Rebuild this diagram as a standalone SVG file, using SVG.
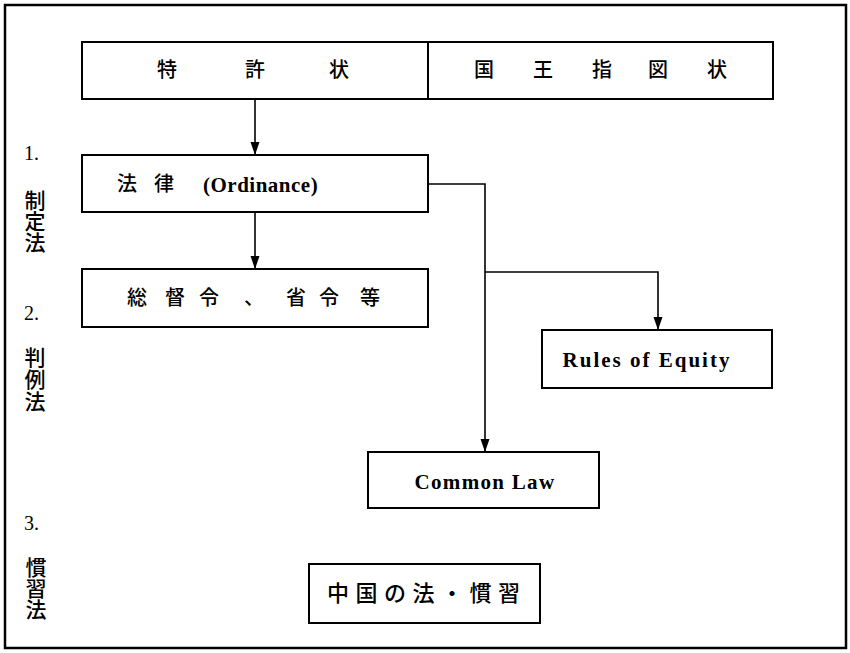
<svg xmlns="http://www.w3.org/2000/svg" width="850" height="653" viewBox="0 0 850 653">
<style>
.box{fill:#fff;stroke:#000;stroke-width:2}
.ln{fill:none;stroke:#000;stroke-width:1.6}
.jp{font-family:"Noto Sans CJK JP","Noto Sans CJK SC",sans-serif;fill:#000;font-weight:500}
.vt{font-family:"Noto Sans CJK JP","Noto Sans CJK SC",sans-serif;fill:#000;font-weight:500;font-size:21px;writing-mode:vertical-rl}
.en{font-family:"Liberation Serif","Times New Roman",serif;font-weight:bold;fill:#000}
.num{font-family:"Liberation Serif","Times New Roman",serif;font-weight:normal;fill:#000;font-size:20px}
</style>
<defs>
<marker id="ad" markerUnits="userSpaceOnUse" markerWidth="14" markerHeight="10" refX="13" refY="5" orient="auto" viewBox="0 0 14 10">
<path d="M0,0.5 L13,5 L0,9.5 Z" fill="#000"/>
</marker>
</defs>
<rect x="0" y="0" width="850" height="653" fill="#fff"/>
<rect id="frame" x="5" y="5" width="841" height="643" fill="none" stroke="#000" stroke-width="2.5"/>

<g id="labels">
<text class="num" x="24" y="160">1.</text>
<text class="vt" x="35" y="190">制定法</text>
<text class="num" x="24" y="320">2.</text>
<text class="vt" x="35" y="347" letter-spacing="1">判例法</text>
<text class="num" x="24" y="530">3.</text>
<text class="vt" x="36" y="557">慣習法</text>
</g>

<g id="tokkyo">
<rect class="box" x="82" y="42" width="346" height="57"/>
<text class="jp" font-size="20" x="157 245 329" y="77">特許状</text>
</g>
<g id="kokuo">
<rect class="box" x="428" y="42" width="345" height="57"/>
<text class="jp" font-size="20" x="474 533 592 648 707" y="77">国王指図状</text>
</g>

<g id="horitsu">
<rect class="box" x="82" y="155" width="346" height="57"/>
<text class="jp" font-size="20" x="117 154" y="191">法律</text>
<text class="en" font-size="21" x="203" y="192" letter-spacing="0.5">(Ordinance)</text>
</g>

<g id="sotokurei">
<rect class="box" x="82" y="269" width="346" height="58"/>
<text class="jp" font-size="20" x="127 165 199 244 286 319 360" y="305">総督令、省令等</text>
</g>

<g id="equity">
<rect class="box" x="542" y="330" width="230" height="58"/>
<text class="en" font-size="21" x="647" y="367" text-anchor="middle" letter-spacing="2">Rules of Equity</text>
</g>

<g id="common">
<rect class="box" x="368" y="452" width="231" height="56"/>
<text class="en" font-size="21" x="485" y="489" text-anchor="middle" letter-spacing="1.3">Common Law</text>
</g>

<g id="chugoku">
<rect class="box" x="309" y="564" width="231" height="59"/>
<text class="jp" font-size="22" x="327" y="601" letter-spacing="6.5">中国の法・慣習</text>
</g>

<g id="connectors">
<path class="ln" d="M255,99 V155" marker-end="url(#ad)"/>
<path class="ln" d="M255,212 V269" marker-end="url(#ad)"/>
<path class="ln" d="M428,184 H485 V452" marker-end="url(#ad)"/>
<path class="ln" d="M485,272 H658 V330" marker-end="url(#ad)"/>
</g>
</svg>
